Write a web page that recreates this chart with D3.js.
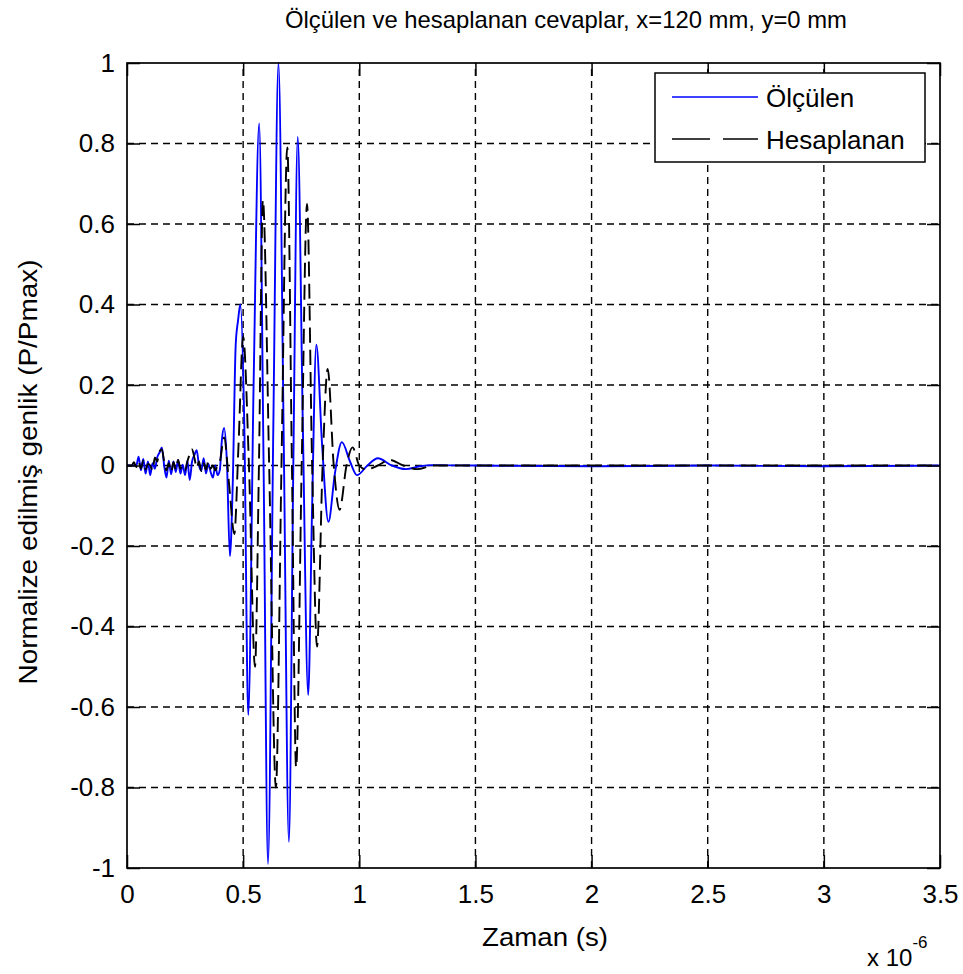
<!DOCTYPE html>
<html><head><meta charset="utf-8">
<script src="https://cdn.jsdelivr.net/npm/d3@7"></script>
<style>body{margin:0;background:#fff} text{font-family:"Liberation Sans",Arial,sans-serif;fill:#000}</style>
</head><body><svg id="c" width="963" height="974"></svg>
<script>
// ---- data (time in microseconds, i.e. x 10^-6 s) ----
const xTicks = [0, 0.5, 1, 1.5, 2, 2.5, 3, 3.5];
const yTicks = [-1, -0.8, -0.6, -0.4, -0.2, 0, 0.2, 0.4, 0.6, 0.8, 1];
const seriesNames = ["Ölçülen", "Hesaplanan"];

// Ölçülen (measured)
const measT = [0, 0.04, 0.05, 0.06, 0.07, 0.08, 0.09, 0.10, 0.11, 0.12, 0.13, 0.14, 0.15, 0.16, 0.17, 0.18, 0.19, 0.20, 0.21, 0.22, 0.23, 0.24, 0.25, 0.26, 0.27, 0.28, 0.29, 0.30, 0.31, 0.32, 0.33, 0.34, 0.35, 0.36, 0.37, 0.38, 0.39, 0.40,
  0.408, 0.418, 0.43, 0.443, 0.455, 0.468, 0.478, 0.488, 0.505, 0.522, 0.545, 0.569, 0.588, 0.607, 0.63, 0.652, 0.675, 0.697, 0.716, 0.735, 0.757, 0.78, 0.797, 0.815, 0.84, 0.867, 0.895, 0.925, 0.96, 0.99, 1.035, 1.08, 1.14, 1.2, 1.26, 1.32, 1.5, 2.0, 2.5, 3.0, 3.5];
const measV = [0, 0.0, 0.022, -0.012, 0.016, -0.02, 0.01, -0.024, 0.006, -0.008, 0.02, 0.032, 0.045, 0.0, -0.03, 0.012, -0.022, 0.01, -0.016, 0.014, -0.02, 0.002, -0.024, 0.012, -0.036, 0.01, 0.026, 0.038, 0.0, -0.012, 0.018, -0.02, 0.004, -0.016, -0.03, 0.0, -0.024, -0.01,
  0.06, 0.093, 0.01, -0.225, -0.05, 0.30, 0.36, 0.40, 0.10, -0.62, 0.20, 0.85, 0.0, -0.99, 0.10, 1.0, 0.05, -0.935, 0.0, 0.816, 0.10, -0.57, -0.10, 0.30, 0.05, -0.14, -0.02, 0.058, 0.01, -0.024, 0.0, 0.018, 0.0, -0.009, -0.002, 0.001, 0.0, -0.002, 0.0, -0.002, 0.0];

// Hesaplanan (calculated)
const calcT = [0, 0.02, 0.03, 0.04, 0.05, 0.06, 0.07, 0.08, 0.09, 0.10, 0.11, 0.12, 0.13, 0.14, 0.15, 0.16, 0.17, 0.18, 0.19, 0.20, 0.21, 0.22, 0.23, 0.24, 0.25, 0.26, 0.27, 0.28, 0.29, 0.30, 0.31, 0.32, 0.33, 0.34, 0.35, 0.36, 0.37, 0.38, 0.39, 0.40,
  0.418, 0.44, 0.462, 0.48, 0.50, 0.525, 0.551, 0.568, 0.585, 0.612, 0.641, 0.665, 0.69, 0.71, 0.728, 0.752, 0.775, 0.797, 0.818, 0.842, 0.864, 0.89, 0.915, 0.945, 0.971, 1.0, 1.03, 1.08, 1.13, 1.19, 1.25, 1.32, 3.5];
const calcV = [0, 0.0, 0.008, -0.004, 0.01, -0.008, 0.012, -0.01, 0.004, 0.0, -0.012, 0.02, 0.01, 0.035, 0.04, 0.01, -0.012, 0.006, -0.016, 0.008, -0.01, 0.014, -0.008, 0.0, -0.012, 0.01, 0.028, 0.04, 0.02, -0.006, 0.01, -0.014, 0.006, -0.01, 0.01, -0.008, 0.0, -0.012, 0.0, 0.01,
  0.07, -0.05, -0.17, 0.05, 0.32, 0.0, -0.50, 0.0, 0.66, 0.0, -0.80, 0.0, 0.79, 0.0, -0.75, 0.0, 0.65, 0.0, -0.45, 0.0, 0.24, 0.0, -0.11, 0.0, 0.045, 0.0, -0.01, 0.0, 0.014, 0.0, -0.009, 0.0, 0.0];

// ---- drawing ----
const svg = d3.select("#c");
const L = 127, R = 940, T = 63, B = 868;
const x = d3.scaleLinear().domain([0, 3.5]).range([L, R]);
const y = d3.scaleLinear().domain([-1, 1]).range([B, T]);

// grid
const g = svg.append("g");
g.selectAll(".gx").data(xTicks.filter(d => d > 0 && d < 3.5)).join("line")
  .attr("x1", d => x(d)).attr("x2", d => x(d)).attr("y1", B).attr("y2", T)
  .attr("stroke", "#000").attr("stroke-width", 1.4).attr("stroke-dasharray", "7,5");
g.selectAll(".gy").data(yTicks.filter(d => d > -1 && d < 1)).join("line")
  .attr("y1", d => y(d)).attr("y2", d => y(d)).attr("x1", L).attr("x2", R)
  .attr("stroke", "#000").attr("stroke-width", 1.4).attr("stroke-dasharray", "7,5");

// lines
const lineGen = d3.line().x(d => x(d[0])).y(d => y(d[1])).curve(d3.curveMonotoneX);
const meas = measT.map((t, i) => [t, measV[i]]);
const calc = calcT.map((t, i) => [t, calcV[i]]);
svg.append("path").datum(meas).attr("d", lineGen).attr("fill", "none")
  .attr("stroke", "#0000ff").attr("stroke-width", 1.9).attr("stroke-linejoin", "round");
svg.append("path").datum(calc).attr("d", lineGen).attr("fill", "none")
  .attr("stroke", "#000").attr("stroke-width", 1.9).attr("stroke-dasharray", "15,7");

// axes
const fmt = d => String(d);
const axB = svg.append("g").attr("transform", `translate(0,${B})`)
  .call(d3.axisBottom(x).tickValues(xTicks).tickFormat(fmt).tickSizeInner(-13).tickSizeOuter(0).tickPadding(17));
const axL = svg.append("g").attr("transform", `translate(${L},0)`)
  .call(d3.axisLeft(y).tickValues(yTicks).tickFormat(fmt).tickSizeInner(-13).tickSizeOuter(0).tickPadding(12));
const axT = svg.append("g").attr("transform", `translate(0,${T})`)
  .call(d3.axisTop(x).tickValues(xTicks).tickFormat("").tickSizeInner(-13).tickSizeOuter(0));
const axR = svg.append("g").attr("transform", `translate(${R},0)`)
  .call(d3.axisRight(y).tickValues(yTicks).tickFormat("").tickSizeInner(-13).tickSizeOuter(0));
[axB, axL, axT, axR].forEach(a => {
  a.select(".domain").remove();
  a.selectAll("line").attr("stroke", "#000").attr("stroke-width", 1.5);
  a.selectAll("text").attr("font-family", '"Liberation Sans", Arial, sans-serif').attr("font-size", 26).attr("fill", "#000");
});
svg.append("rect").attr("x", L).attr("y", T).attr("width", R - L).attr("height", B - T)
  .attr("fill", "none").attr("stroke", "#000").attr("stroke-width", 1.7);

// titles
svg.append("text").attr("x", 566).attr("y", 28).attr("text-anchor", "middle")
  .attr("font-size", 24).attr("textLength", 562).attr("lengthAdjust", "spacingAndGlyphs")
  .text("Ölçülen ve hesaplanan cevaplar, x=120 mm, y=0 mm");
svg.append("text").attr("x", 545).attr("y", 946).attr("text-anchor", "middle")
  .attr("font-size", 26).attr("textLength", 126).attr("lengthAdjust", "spacingAndGlyphs")
  .text("Zaman (s)");
svg.append("text").attr("transform", "translate(37,472) rotate(-90)").attr("text-anchor", "middle")
  .attr("font-size", 26).attr("textLength", 425).attr("lengthAdjust", "spacingAndGlyphs")
  .text("Normalize edilmiş genlik (P/Pmax)");
const ex = svg.append("text").attr("x", 867).attr("y", 966).attr("font-size", 24);
ex.append("tspan").text("x 10");
ex.append("tspan").attr("dy", -18).attr("font-size", 17).text("-6");

// legend
const lg = svg.append("g");
lg.append("rect").attr("x", 655).attr("y", 73).attr("width", 270).attr("height", 89)
  .attr("fill", "#fff").attr("stroke", "#000").attr("stroke-width", 1.5);
const legY = [97, 139];
const legStyle = [{c: "#0000ff", d: null}, {c: "#000", d: "38,13"}];
seriesNames.forEach((n, i) => {
  const ln = lg.append("line").attr("x1", 672).attr("x2", 758).attr("y1", legY[i]).attr("y2", legY[i])
    .attr("stroke", legStyle[i].c).attr("stroke-width", 1.7);
  if (legStyle[i].d) ln.attr("stroke-dasharray", legStyle[i].d);
  lg.append("text").attr("x", 766).attr("y", legY[i] + 10).attr("font-size", 26).text(n);
});
</script></body></html>
